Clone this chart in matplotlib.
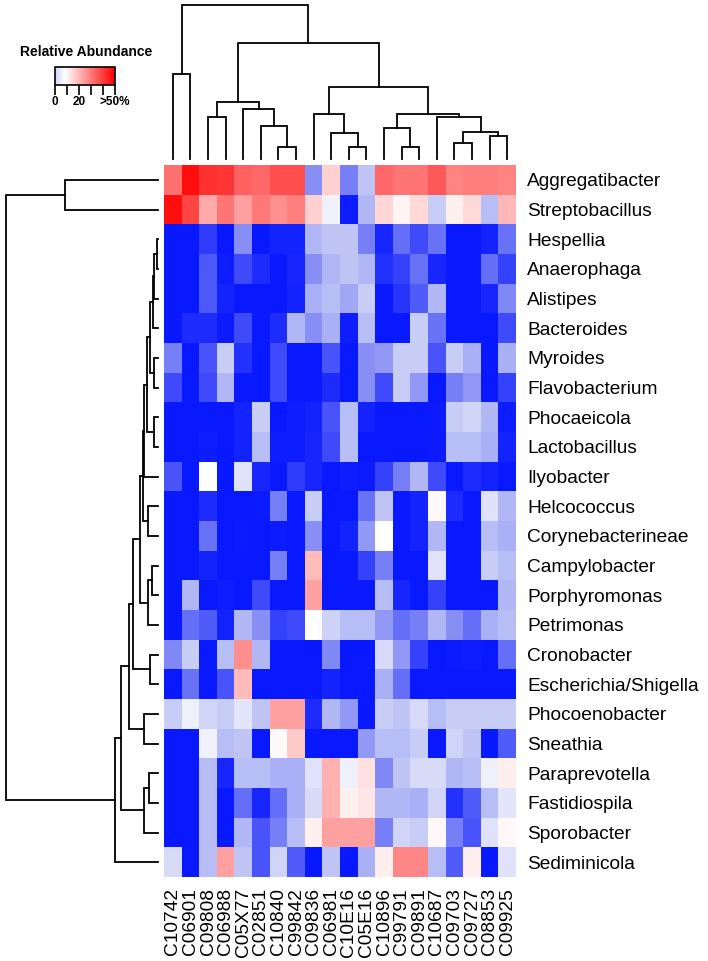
import matplotlib
matplotlib.use("Agg")
import numpy as np
import matplotlib.pyplot as plt
from matplotlib.colors import LinearSegmentedColormap, ListedColormap, Normalize
from matplotlib.cm import ScalarMappable

plt.rcParams["font.family"] = ["Liberation Sans", "DejaVu Sans"]

samples = ["C10742", "C06901", "C09808", "C06988", "C05X77", "C02851", "C10840",
           "C99842", "C09836", "C06981", "C10E16", "C05E16", "C10896", "C99791",
           "C09891", "C10687", "C09703", "C09727", "C08853", "C09925"]

genera = ["Aggregatibacter", "Streptobacillus", "Hespellia", "Anaerophaga", "Alistipes",
          "Bacteroides", "Myroides", "Flavobacterium", "Phocaeicola", "Lactobacillus",
          "Ilyobacter", "Helcococcus", "Corynebacterineae", "Campylobacter",
          "Porphyromonas", "Petrimonas", "Cronobacter", "Escherichia/Shigella",
          "Phocoenobacter", "Sneathia", "Paraprevotella", "Fastidiospila",
          "Sporobacter", "Sediminicola"]

# colour score of each cell: -100 deep blue, 0 white, 100 red (>50%)
scores = [
    [56, 94, 81, 79, 62, 59, 69, 69, -49, 18, -56, -26, 59, 54, 54, 65, 48, 50, 50, 48],
    [94, 73, 33, 54, 37, 53, 44, 50, 18, -6, -97, -32, 16, 4, 15, -22, 6, 15, -29, 28],
    [-100, -100, -84, -100, -49, -100, -95, -95, -32, -26, -26, -56, -93, -63, -78, -61, -100, -100, -95, -61],
    [-100, -100, -72, -97, -78, -91, -100, -93, -49, -32, -26, -32, -89, -82, -61, -93, -100, -100, -63, -82],
    [-100, -100, -72, -95, -100, -100, -100, -95, -35, -29, -39, -22, -100, -87, -71, -32, -100, -100, -93, -52],
    [-100, -91, -91, -98, -78, -100, -91, -32, -49, -35, -97, -29, -100, -100, -22, -61, -100, -100, -100, -78],
    [-56, -100, -74, -22, -89, -100, -78, -100, -100, -74, -100, -49, -45, -22, -22, -74, -22, -35, -100, -35],
    [-78, -100, -78, -32, -100, -100, -78, -100, -100, -91, -100, -49, -78, -22, -45, -100, -56, -45, -100, -82],
    [-100, -100, -100, -100, -95, -22, -100, -97, -95, -74, -29, -95, -100, -100, -100, -98, -22, -19, -32, -97],
    [-100, -100, -97, -100, -95, -29, -97, -97, -93, -78, -29, -100, -100, -100, -100, -98, -29, -29, -35, -95],
    [-74, -100, 0, -100, -13, -93, -100, -84, -93, -100, -97, -98, -82, -56, -32, -78, -100, -91, -95, -100],
    [-100, -100, -91, -100, -100, -98, -56, -100, -22, -100, -100, -61, -26, -100, -95, 3, -91, -100, -13, -32],
    [-100, -100, -61, -100, -98, -100, -98, -100, -49, -100, -95, -45, 0, -100, -95, -32, -100, -100, -29, -35],
    [-100, -100, -95, -100, -100, -100, -56, -100, 27, -100, -100, -82, -56, -100, -100, -13, -100, -100, -22, -29],
    [-100, -32, -100, -97, -100, -78, -100, -100, 37, -100, -100, -100, -29, -93, -100, -82, -100, -100, -100, -32],
    [-100, -63, -71, -95, -32, -49, -82, -78, 0, -20, -29, -29, -45, -63, -56, -32, -49, -63, -35, -29],
    [-52, -22, -100, -29, 44, -32, -100, -100, -100, -52, -100, -100, -17, -45, -82, -100, -98, -97, -100, -63],
    [-100, -61, -100, -74, 27, -100, -100, -100, -100, -95, -100, -100, -35, -63, -100, -100, -100, -100, -100, -100],
    [-22, -7, -19, -22, -11, -26, 37, 37, -91, -32, -45, -100, -22, -26, -17, -29, -22, -22, -22, -22],
    [-100, -100, -6, -29, -26, -100, 2, 21, -100, -100, -100, -45, -29, -29, -22, -100, -19, -26, -100, -71],
    [-100, -100, -29, -93, -29, -29, -35, -35, -13, 31, -7, 12, -52, -26, -16, -16, -32, -29, -7, 7],
    [-100, -100, -29, -100, -63, -93, -63, -35, -16, 31, 6, 10, -32, -32, -35, -19, -89, -71, -29, -11],
    [-100, -100, -29, -100, -32, -74, -56, -29, 6, 37, 37, 37, -56, -19, -22, 3, -56, -74, -13, 3],
    [-16, -100, -29, 37, -26, -74, -19, -71, -100, -26, -100, -35, 7, 47, 47, -29, -71, 7, -100, -13],
]

# dendrogram merges (left id, right id, height); leaves are 0..n-1, merge k gets id n+k
col_links = [
    (6, 7, 12.3), (10, 11, 12.3), (13, 14, 12.3), (16, 17, 16.3), (18, 19, 23.3),
    (5, 20, 33), (9, 21, 26.3), (12, 22, 30.7), (23, 24, 27.3), (15, 28, 41.7),
    (4, 25, 50), (2, 3, 41.7), (31, 30, 57.3), (8, 26, 45), (27, 29, 45),
    (33, 34, 71.7), (32, 35, 115.7), (0, 1, 85), (37, 36, 154),
]
row_links = [
    (2, 3, 1.3), (24, 4, 3.7), (25, 5, 4.7), (6, 7, 4), (26, 27, 8),
    (8, 9, 4), (28, 29, 11.3), (30, 10, 14), (11, 12, 10.3), (31, 32, 15),
    (13, 14, 6.3), (34, 15, 9.7), (33, 35, 18), (16, 17, 8.3), (36, 37, 24.7),
    (18, 19, 14), (38, 39, 28.7), (20, 21, 8.7), (41, 22, 14), (40, 42, 37.3),
    (43, 23, 43), (0, 1, 93), (45, 44, 152),
]

W, H = 708, 961


def box(x0, y0, x1, y1):
    return [x0 / W, 1 - y1 / H, (x1 - x0) / W, (y1 - y0) / H]


def draw_tree(ax, links, n, sideways=False):
    pos = {i: i + 0.5 for i in range(n)}
    hgt = {i: 0.0 for i in range(n)}
    for k, (a, b, d) in enumerate(links):
        xs = [pos[a], pos[a], pos[b], pos[b]]
        ys = [hgt[a], d, d, hgt[b]]
        if sideways:
            xs, ys = ys, xs
        ax.plot(xs, ys, color="black", lw=1.3, clip_on=False, solid_joinstyle="miter")
        pos[n + k] = (pos[a] + pos[b]) / 2
        hgt[n + k] = d
    ax.axis("off")


fig = plt.figure(figsize=(W / 100, H / 100), dpi=100)

cmap = LinearSegmentedColormap.from_list(
    "abund", [(0.0, "#0818FF"), (0.255, "#8890F5"), (0.37, "#C0C5F5"),
              (0.5, "#FFFFFF"), (1.0, "#FF0000")])

ax = fig.add_axes(box(164, 165, 516, 877))
ax.imshow(np.array(scores), cmap=cmap, vmin=-100, vmax=100, aspect="auto",
          interpolation="nearest")
ax.set_xticks(range(len(samples)))
ax.set_xticklabels(samples, rotation=90, fontsize=13.8)
ax.set_yticks(range(len(genera)))
ax.set_yticklabels(genera, fontsize=13.8)
ax.yaxis.tick_right()
ax.tick_params(length=0, pad=8)
for s in ax.spines.values():
    s.set_visible(False)

ax_top = fig.add_axes(box(164, 5, 516, 159))
ax_top.set_xlim(0, len(samples))
ax_top.set_ylim(0, 154)
draw_tree(ax_top, col_links, len(samples))

ax_left = fig.add_axes(box(6, 165, 158, 877))
ax_left.set_xlim(152, 0)
ax_left.set_ylim(len(genera), 0)
draw_tree(ax_left, row_links, len(genera), sideways=True)

# legend
fig.text(86 / W, 1 - 52 / H, "Relative Abundance", ha="center", va="center",
         fontsize=10, fontweight="bold")
cax = fig.add_axes(box(55, 67, 115, 85))
leg_cmap = ListedColormap(cmap(np.linspace(0.4, 1.0, 256)))
cb = fig.colorbar(ScalarMappable(norm=Normalize(0, 50), cmap=leg_cmap), cax=cax,
                  orientation="horizontal", ticks=[0, 10, 20, 30, 40, 50])
cb.ax.set_xticklabels(["0", "", "20", "", "", ">50%"], fontweight="bold")
cb.ax.tick_params(length=7, width=1.2, labelsize=8.5, pad=1)
cb.outline.set_linewidth(1.2)

fig.savefig("out.png", dpi=100)
